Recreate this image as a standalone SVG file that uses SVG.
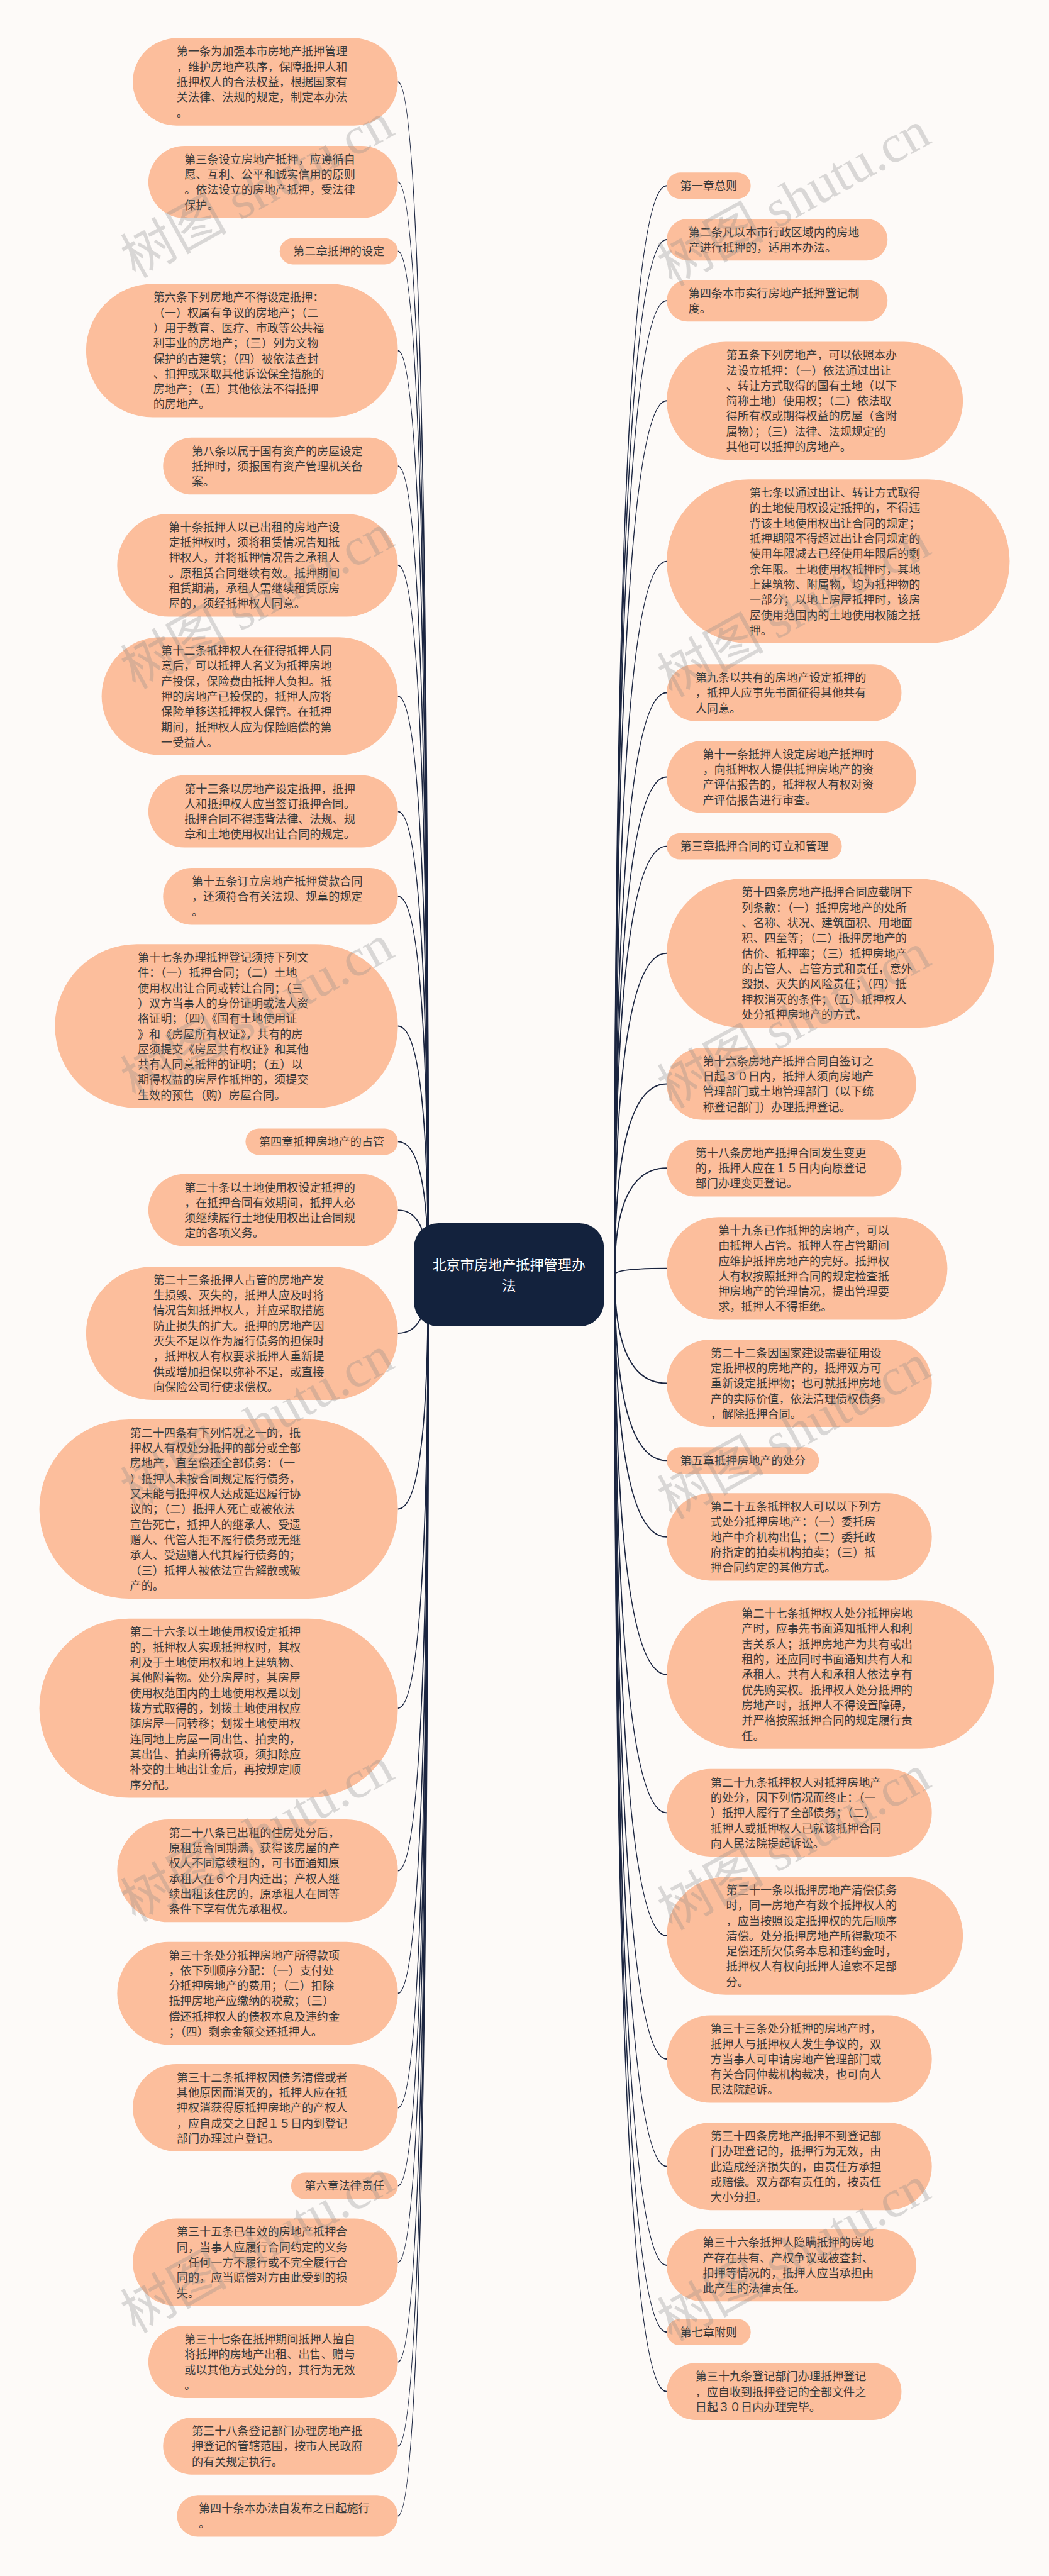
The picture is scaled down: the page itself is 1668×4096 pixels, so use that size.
<svg xmlns="http://www.w3.org/2000/svg" width="1668" height="4096" viewBox="0 0 1668 4096">
<style>
.n{fill:#FCBE9C}
.t{font-family:"Noto Sans CJK SC","Noto Sans",sans-serif;font-size:27.8px;fill:#3a3a3a}
.c{fill:none;stroke:#1b2540;stroke-width:3}
.wm{font-family:"Liberation Serif","Noto Sans CJK SC",serif;font-size:130px;fill:#8a8a8a;opacity:0.3}
.rt{font-family:"Noto Sans CJK SC","Noto Sans",sans-serif;font-size:34px;fill:#ffffff}
</style>
<rect x="0" y="0" width="1668" height="4096" fill="#FDFAF8"/>
<g transform="scale(0.6515625)">
<g id="connectors">
<path class="c" d="M971 199.8 Q1045 199.8 1045 3111"/>
<path class="c" d="M971 444.1 Q1045 444.1 1045 3111"/>
<path class="c" d="M971 613.2 Q1045 613.2 1045 3111"/>
<path class="c" d="M971 855.7 Q1045 855.7 1045 3111"/>
<path class="c" d="M971 1137.5 Q1045 1137.5 1045 3111"/>
<path class="c" d="M971 1379.4 Q1045 1379.4 1045 3111"/>
<path class="c" d="M971 1699 Q1045 1699 1045 3111"/>
<path class="c" d="M971 1980.1 Q1045 1980.1 1045 3111"/>
<path class="c" d="M971 2187.5 Q1045 2187.5 1045 3111"/>
<path class="c" d="M971 2504 Q1045 2504 1045 3111"/>
<path class="c" d="M971 2786.2 Q1045 2786.2 1045 3111"/>
<path class="c" d="M971 2953.1 Q1045 2953.1 1045 3111"/>
<path class="c" d="M971 3253.7 Q1045 3253.7 1045 3111"/>
<path class="c" d="M971 3682.7 Q1045 3682.7 1045 3111"/>
<path class="c" d="M971 4168.7 Q1045 4168.7 1045 3111"/>
<path class="c" d="M971 4565.4 Q1045 4565.4 1045 3111"/>
<path class="c" d="M971 4864.4 Q1045 4864.4 1045 3111"/>
<path class="c" d="M971 5143.8 Q1045 5143.8 1045 3111"/>
<path class="c" d="M971 5334.2 Q1045 5334.2 1045 3111"/>
<path class="c" d="M971 5520.8 Q1045 5520.8 1045 3111"/>
<path class="c" d="M971 5764.1 Q1045 5764.1 1045 3111"/>
<path class="c" d="M971 5969.5 Q1045 5969.5 1045 3111"/>
<path class="c" d="M971 6139.8 Q1045 6139.8 1045 3111"/>
<path class="c" d="M1627 453.2 Q1500 453.2 1500 3111"/>
<path class="c" d="M1627 584.8 Q1500 584.8 1500 3111"/>
<path class="c" d="M1627 733.8 Q1500 733.8 1500 3111"/>
<path class="c" d="M1627 978 Q1500 978 1500 3111"/>
<path class="c" d="M1627 1370 Q1500 1370 1500 3111"/>
<path class="c" d="M1627 1690.5 Q1500 1690.5 1500 3111"/>
<path class="c" d="M1627 1896.1 Q1500 1896.1 1500 3111"/>
<path class="c" d="M1627 2065.2 Q1500 2065.2 1500 3111"/>
<path class="c" d="M1627 2326.4 Q1500 2326.4 1500 3111"/>
<path class="c" d="M1627 2645.1 Q1500 2645.1 1500 3111"/>
<path class="c" d="M1627 2850.5 Q1500 2850.5 1500 3111"/>
<path class="c" d="M1627 3095.4 Q1500 3095.4 1500 3111"/>
<path class="c" d="M1627 3375.8 Q1500 3375.8 1500 3111"/>
<path class="c" d="M1627 3564.2 Q1500 3564.2 1500 3111"/>
<path class="c" d="M1627 3750.8 Q1500 3750.8 1500 3111"/>
<path class="c" d="M1627 4086.4 Q1500 4086.4 1500 3111"/>
<path class="c" d="M1627 4423.8 Q1500 4423.8 1500 3111"/>
<path class="c" d="M1627 4724 Q1500 4724 1500 3111"/>
<path class="c" d="M1627 5024.8 Q1500 5024.8 1500 3111"/>
<path class="c" d="M1627 5286.8 Q1500 5286.8 1500 3111"/>
<path class="c" d="M1627 5528.1 Q1500 5528.1 1500 3111"/>
<path class="c" d="M1627 5691.2 Q1500 5691.2 1500 3111"/>
<path class="c" d="M1627 5836.5 Q1500 5836.5 1500 3111"/>
</g>

<g id="root">
<rect x="1010" y="2985" width="464" height="252" rx="60" fill="#13223D"/>
<text class="rt" x="1242" y="3098" text-anchor="middle">北京市房地产抵押管理办</text>
<text class="rt" x="1242" y="3150" text-anchor="middle">法</text>
</g>

<g id="L1"><rect class="n" x="324" y="93" width="647" height="213.5" rx="106.75"/>
<text class="t" x="431" y="135.7"><tspan x="431">第一条为加强本市房地产抵押管理</tspan><tspan x="431" dy="37.3">，维护房地产秩序，保障抵押人和</tspan><tspan x="431" dy="37.3">抵押权人的合法权益，根据国家有</tspan><tspan x="431" dy="37.3">关法律、法规的规定，制定本办法</tspan><tspan x="431" dy="37.3">。</tspan></text></g>

<g id="L2"><rect class="n" x="362" y="356" width="609" height="176.2" rx="88.1"/>
<text class="t" x="450" y="398.7"><tspan x="450">第三条设立房地产抵押，应遵循自</tspan><tspan x="450" dy="37.3">愿、互利、公平和诚实信用的原则</tspan><tspan x="450" dy="37.3">。依法设立的房地产抵押，受法律</tspan><tspan x="450" dy="37.3">保护。</tspan></text></g>

<g id="L3"><rect class="n" x="682.6" y="581" width="288.4" height="64.3" rx="32.15"/>
<text class="t" x="715.6" y="623.7">第二章抵押的设定</text></g>

<g id="L4"><rect class="n" x="210" y="693" width="761" height="325.4" rx="162.7"/>
<text class="t" x="374" y="735.7"><tspan x="374">第六条下列房地产不得设定抵押：</tspan><tspan x="374" dy="37.3">（一）权属有争议的房地产；（二</tspan><tspan x="374" dy="37.3">）用于教育、医疗、市政等公共福</tspan><tspan x="374" dy="37.3">利事业的房地产；（三）列为文物</tspan><tspan x="374" dy="37.3">保护的古建筑；（四）被依法查封</tspan><tspan x="374" dy="37.3">、扣押或采取其他诉讼保全措施的</tspan><tspan x="374" dy="37.3">房地产；（五）其他依法不得抵押</tspan><tspan x="374" dy="37.3">的房地产。</tspan></text></g>

<g id="L5"><rect class="n" x="398" y="1068" width="573" height="138.9" rx="69.45"/>
<text class="t" x="468" y="1110.7"><tspan x="468">第八条以属于国有资产的房屋设定</tspan><tspan x="468" dy="37.3">抵押时，须报国有资产管理机关备</tspan><tspan x="468" dy="37.3">案。</tspan></text></g>

<g id="L6"><rect class="n" x="286" y="1254" width="685" height="250.8" rx="125.4"/>
<text class="t" x="412" y="1296.7"><tspan x="412">第十条抵押人以已出租的房地产设</tspan><tspan x="412" dy="37.3">定抵押权时，须将租赁情况告知抵</tspan><tspan x="412" dy="37.3">押权人，并将抵押情况告之承租人</tspan><tspan x="412" dy="37.3">。原租赁合同继续有效。抵押期间</tspan><tspan x="412" dy="37.3">租赁期满，承租人需继续租赁原房</tspan><tspan x="412" dy="37.3">屋的，须经抵押权人同意。</tspan></text></g>

<g id="L7"><rect class="n" x="248" y="1555" width="723" height="288.1" rx="144"/>
<text class="t" x="393" y="1597.7"><tspan x="393">第十二条抵押权人在征得抵押人同</tspan><tspan x="393" dy="37.3">意后，可以抵押人名义为抵押房地</tspan><tspan x="393" dy="37.3">产投保，保险费由抵押人负担。抵</tspan><tspan x="393" dy="37.3">押的房地产已投保的，抵押人应将</tspan><tspan x="393" dy="37.3">保险单移送抵押权人保管。在抵押</tspan><tspan x="393" dy="37.3">期间，抵押权人应为保险赔偿的第</tspan><tspan x="393" dy="37.3">一受益人。</tspan></text></g>

<g id="L8"><rect class="n" x="362" y="1892" width="609" height="176.2" rx="88.1"/>
<text class="t" x="450" y="1934.7"><tspan x="450">第十三条以房地产设定抵押，抵押</tspan><tspan x="450" dy="37.3">人和抵押权人应当签订抵押合同。</tspan><tspan x="450" dy="37.3">抵押合同不得违背法律、法规、规</tspan><tspan x="450" dy="37.3">章和土地使用权出让合同的规定。</tspan></text></g>

<g id="L9"><rect class="n" x="398" y="2118" width="573" height="138.9" rx="69.45"/>
<text class="t" x="468" y="2160.7"><tspan x="468">第十五条订立房地产抵押贷款合同</tspan><tspan x="468" dy="37.3">，还须符合有关法规、规章的规定</tspan><tspan x="468" dy="37.3">。</tspan></text></g>

<g id="L10"><rect class="n" x="134" y="2304" width="837" height="400" rx="200"/>
<text class="t" x="336" y="2346.7"><tspan x="336">第十七条办理抵押登记须持下列文</tspan><tspan x="336" dy="37.3">件：（一）抵押合同；（二）土地</tspan><tspan x="336" dy="37.3">使用权出让合同或转让合同；（三</tspan><tspan x="336" dy="37.3">）双方当事人的身份证明或法人资</tspan><tspan x="336" dy="37.3">格证明；（四）《国有土地使用证</tspan><tspan x="336" dy="37.3">》和《房屋所有权证》，共有的房</tspan><tspan x="336" dy="37.3">屋须提交《房屋共有权证》和其他</tspan><tspan x="336" dy="37.3">共有人同意抵押的证明；（五）以</tspan><tspan x="336" dy="37.3">期得权益的房屋作抵押的，须提交</tspan><tspan x="336" dy="37.3">生效的预售（购）房屋合同。</tspan></text></g>

<g id="L11"><rect class="n" x="599.2" y="2754" width="371.8" height="64.3" rx="32.15"/>
<text class="t" x="632.2" y="2796.7">第四章抵押房地产的占管</text></g>

<g id="L12"><rect class="n" x="362" y="2865" width="609" height="176.2" rx="88.1"/>
<text class="t" x="450" y="2907.7"><tspan x="450">第二十条以土地使用权设定抵押的</tspan><tspan x="450" dy="37.3">，在抵押合同有效期间，抵押人必</tspan><tspan x="450" dy="37.3">须继续履行土地使用权出让合同规</tspan><tspan x="450" dy="37.3">定的各项义务。</tspan></text></g>

<g id="L13"><rect class="n" x="210" y="3091" width="761" height="325.4" rx="162.7"/>
<text class="t" x="374" y="3133.7"><tspan x="374">第二十三条抵押人占管的房地产发</tspan><tspan x="374" dy="37.3">生损毁、灭失的，抵押人应及时将</tspan><tspan x="374" dy="37.3">情况告知抵押权人，并应采取措施</tspan><tspan x="374" dy="37.3">防止损失的扩大。抵押的房地产因</tspan><tspan x="374" dy="37.3">灭失不足以作为履行债务的担保时</tspan><tspan x="374" dy="37.3">，抵押权人有权要求抵押人重新提</tspan><tspan x="374" dy="37.3">供或增加担保以弥补不足，或直接</tspan><tspan x="374" dy="37.3">向保险公司行使求偿权。</tspan></text></g>

<g id="L14"><rect class="n" x="96" y="3464" width="875" height="437.3" rx="218.65"/>
<text class="t" x="317" y="3506.7"><tspan x="317">第二十四条有下列情况之一的，抵</tspan><tspan x="317" dy="37.3">押权人有权处分抵押的部分或全部</tspan><tspan x="317" dy="37.3">房地产，直至偿还全部债务：（一</tspan><tspan x="317" dy="37.3">）抵押人未按合同规定履行债务，</tspan><tspan x="317" dy="37.3">又未能与抵押权人达成延迟履行协</tspan><tspan x="317" dy="37.3">议的；（二）抵押人死亡或被依法</tspan><tspan x="317" dy="37.3">宣告死亡，抵押人的继承人、受遗</tspan><tspan x="317" dy="37.3">赠人、代管人拒不履行债务或无继</tspan><tspan x="317" dy="37.3">承人、受遗赠人代其履行债务的；</tspan><tspan x="317" dy="37.3">（三）抵押人被依法宣告解散或破</tspan><tspan x="317" dy="37.3">产的。</tspan></text></g>

<g id="L15"><rect class="n" x="96" y="3950" width="875" height="437.3" rx="218.65"/>
<text class="t" x="317" y="3992.7"><tspan x="317">第二十六条以土地使用权设定抵押</tspan><tspan x="317" dy="37.3">的，抵押权人实现抵押权时，其权</tspan><tspan x="317" dy="37.3">利及于土地使用权和地上建筑物、</tspan><tspan x="317" dy="37.3">其他附着物。处分房屋时，其房屋</tspan><tspan x="317" dy="37.3">使用权范围内的土地使用权是以划</tspan><tspan x="317" dy="37.3">拨方式取得的，划拨土地使用权应</tspan><tspan x="317" dy="37.3">随房屋一同转移；划拨土地使用权</tspan><tspan x="317" dy="37.3">连同地上房屋一同出售、拍卖的，</tspan><tspan x="317" dy="37.3">其出售、拍卖所得款项，须扣除应</tspan><tspan x="317" dy="37.3">补交的土地出让金后，再按规定顺</tspan><tspan x="317" dy="37.3">序分配。</tspan></text></g>

<g id="L16"><rect class="n" x="286" y="4440" width="685" height="250.8" rx="125.4"/>
<text class="t" x="412" y="4482.7"><tspan x="412">第二十八条已出租的住房处分后，</tspan><tspan x="412" dy="37.3">原租赁合同期满，获得该房屋的产</tspan><tspan x="412" dy="37.3">权人不同意续租的，可书面通知原</tspan><tspan x="412" dy="37.3">承租人在６个月内迁出；产权人继</tspan><tspan x="412" dy="37.3">续出租该住房的，原承租人在同等</tspan><tspan x="412" dy="37.3">条件下享有优先承租权。</tspan></text></g>

<g id="L17"><rect class="n" x="286" y="4739" width="685" height="250.8" rx="125.4"/>
<text class="t" x="412" y="4781.7"><tspan x="412">第三十条处分抵押房地产所得款项</tspan><tspan x="412" dy="37.3">，依下列顺序分配：（一）支付处</tspan><tspan x="412" dy="37.3">分抵押房地产的费用；（二）扣除</tspan><tspan x="412" dy="37.3">抵押房地产应缴纳的税款；（三）</tspan><tspan x="412" dy="37.3">偿还抵押权人的债权本息及违约金</tspan><tspan x="412" dy="37.3">；（四）剩余金额交还抵押人。</tspan></text></g>

<g id="L18"><rect class="n" x="324" y="5037" width="647" height="213.5" rx="106.75"/>
<text class="t" x="431" y="5079.7"><tspan x="431">第三十二条抵押权因债务清偿或者</tspan><tspan x="431" dy="37.3">其他原因而消灭的，抵押人应在抵</tspan><tspan x="431" dy="37.3">押权消获得原抵押房地产的产权人</tspan><tspan x="431" dy="37.3">，应自成交之日起１５日内到登记</tspan><tspan x="431" dy="37.3">部门办理过户登记。</tspan></text></g>

<g id="L19"><rect class="n" x="710.4" y="5302" width="260.6" height="64.3" rx="32.15"/>
<text class="t" x="743.4" y="5344.7">第六章法律责任</text></g>

<g id="L20"><rect class="n" x="324" y="5414" width="647" height="213.5" rx="106.75"/>
<text class="t" x="431" y="5456.7"><tspan x="431">第三十五条已生效的房地产抵押合</tspan><tspan x="431" dy="37.3">同，当事人应履行合同约定的义务</tspan><tspan x="431" dy="37.3">，任何一方不履行或不完全履行合</tspan><tspan x="431" dy="37.3">同的，应当赔偿对方由此受到的损</tspan><tspan x="431" dy="37.3">失。</tspan></text></g>

<g id="L21"><rect class="n" x="362" y="5676" width="609" height="176.2" rx="88.1"/>
<text class="t" x="450" y="5718.7"><tspan x="450">第三十七条在抵押期间抵押人擅自</tspan><tspan x="450" dy="37.3">将抵押的房地产出租、出售、赠与</tspan><tspan x="450" dy="37.3">或以其他方式处分的，其行为无效</tspan><tspan x="450" dy="37.3">。</tspan></text></g>

<g id="L22"><rect class="n" x="398" y="5900" width="573" height="138.9" rx="69.45"/>
<text class="t" x="468" y="5942.7"><tspan x="468">第三十八条登记部门办理房地产抵</tspan><tspan x="468" dy="37.3">押登记的管辖范围，按市人民政府</tspan><tspan x="468" dy="37.3">的有关规定执行。</tspan></text></g>

<g id="L23"><rect class="n" x="432" y="6089" width="539" height="101.6" rx="50.8"/>
<text class="t" x="485" y="6131.7"><tspan x="485">第四十条本办法自发布之日起施行</tspan><tspan x="485" dy="37.3">。</tspan></text></g>

<g id="R1"><rect class="n" x="1627" y="421" width="205" height="64.3" rx="32.15"/>
<text class="t" x="1660" y="463.7">第一章总则</text></g>

<g id="R2"><rect class="n" x="1627" y="534" width="539" height="101.6" rx="50.8"/>
<text class="t" x="1680" y="576.7"><tspan x="1680">第二条凡以本市行政区域内的房地</tspan><tspan x="1680" dy="37.3">产进行抵押的，适用本办法。</tspan></text></g>

<g id="R3"><rect class="n" x="1627" y="683" width="539" height="101.6" rx="50.8"/>
<text class="t" x="1680" y="725.7"><tspan x="1680">第四条本市实行房地产抵押登记制</tspan><tspan x="1680" dy="37.3">度。</tspan></text></g>

<g id="R4"><rect class="n" x="1627" y="834" width="723" height="288.1" rx="144"/>
<text class="t" x="1772" y="876.7"><tspan x="1772">第五条下列房地产，可以依照本办</tspan><tspan x="1772" dy="37.3">法设立抵押：（一）依法通过出让</tspan><tspan x="1772" dy="37.3">、转让方式取得的国有土地（以下</tspan><tspan x="1772" dy="37.3">简称土地）使用权；（二）依法取</tspan><tspan x="1772" dy="37.3">得所有权或期得权益的房屋（含附</tspan><tspan x="1772" dy="37.3">属物）；（三）法律、法规规定的</tspan><tspan x="1772" dy="37.3">其他可以抵押的房地产。</tspan></text></g>

<g id="R5"><rect class="n" x="1627" y="1170" width="837" height="400" rx="200"/>
<text class="t" x="1829" y="1212.7"><tspan x="1829">第七条以通过出让、转让方式取得</tspan><tspan x="1829" dy="37.3">的土地使用权设定抵押的，不得违</tspan><tspan x="1829" dy="37.3">背该土地使用权出让合同的规定；</tspan><tspan x="1829" dy="37.3">抵押期限不得超过出让合同规定的</tspan><tspan x="1829" dy="37.3">使用年限减去已经使用年限后的剩</tspan><tspan x="1829" dy="37.3">余年限。土地使用权抵押时，其地</tspan><tspan x="1829" dy="37.3">上建筑物、附属物，均为抵押物的</tspan><tspan x="1829" dy="37.3">一部分；以地上房屋抵押时，该房</tspan><tspan x="1829" dy="37.3">屋使用范围内的土地使用权随之抵</tspan><tspan x="1829" dy="37.3">押。</tspan></text></g>

<g id="R6"><rect class="n" x="1627" y="1621" width="573" height="138.9" rx="69.45"/>
<text class="t" x="1697" y="1663.7"><tspan x="1697">第九条以共有的房地产设定抵押的</tspan><tspan x="1697" dy="37.3">，抵押人应事先书面征得其他共有</tspan><tspan x="1697" dy="37.3">人同意。</tspan></text></g>

<g id="R7"><rect class="n" x="1627" y="1808" width="609" height="176.2" rx="88.1"/>
<text class="t" x="1715" y="1850.7"><tspan x="1715">第十一条抵押人设定房地产抵押时</tspan><tspan x="1715" dy="37.3">，向抵押权人提供抵押房地产的资</tspan><tspan x="1715" dy="37.3">产评估报告的，抵押权人有权对资</tspan><tspan x="1715" dy="37.3">产评估报告进行审查。</tspan></text></g>

<g id="R8"><rect class="n" x="1627" y="2033" width="427.4" height="64.3" rx="32.15"/>
<text class="t" x="1660" y="2075.7">第三章抵押合同的订立和管理</text></g>

<g id="R9"><rect class="n" x="1627" y="2145" width="799" height="362.7" rx="181.35"/>
<text class="t" x="1810" y="2187.7"><tspan x="1810">第十四条房地产抵押合同应载明下</tspan><tspan x="1810" dy="37.3">列条款：（一）抵押房地产的处所</tspan><tspan x="1810" dy="37.3">、名称、状况、建筑面积、用地面</tspan><tspan x="1810" dy="37.3">积、四至等；（二）抵押房地产的</tspan><tspan x="1810" dy="37.3">估价、抵押率；（三）抵押房地产</tspan><tspan x="1810" dy="37.3">的占管人、占管方式和责任，意外</tspan><tspan x="1810" dy="37.3">毁损、灭失的风险责任；（四）抵</tspan><tspan x="1810" dy="37.3">押权消灭的条件；（五）抵押权人</tspan><tspan x="1810" dy="37.3">处分抵押房地产的方式。</tspan></text></g>

<g id="R10"><rect class="n" x="1627" y="2557" width="609" height="176.2" rx="88.1"/>
<text class="t" x="1715" y="2599.7"><tspan x="1715">第十六条房地产抵押合同自签订之</tspan><tspan x="1715" dy="37.3">日起３０日内，抵押人须向房地产</tspan><tspan x="1715" dy="37.3">管理部门或土地管理部门（以下统</tspan><tspan x="1715" dy="37.3">称登记部门）办理抵押登记。</tspan></text></g>

<g id="R11"><rect class="n" x="1627" y="2781" width="573" height="138.9" rx="69.45"/>
<text class="t" x="1697" y="2823.7"><tspan x="1697">第十八条房地产抵押合同发生变更</tspan><tspan x="1697" dy="37.3">的，抵押人应在１５日内向原登记</tspan><tspan x="1697" dy="37.3">部门办理变更登记。</tspan></text></g>

<g id="R12"><rect class="n" x="1627" y="2970" width="685" height="250.8" rx="125.4"/>
<text class="t" x="1753" y="3012.7"><tspan x="1753">第十九条已作抵押的房地产，可以</tspan><tspan x="1753" dy="37.3">由抵押人占管。抵押人在占管期间</tspan><tspan x="1753" dy="37.3">应维护抵押房地产的完好。抵押权</tspan><tspan x="1753" dy="37.3">人有权按照抵押合同的规定检查抵</tspan><tspan x="1753" dy="37.3">押房地产的管理情况，提出管理要</tspan><tspan x="1753" dy="37.3">求，抵押人不得拒绝。</tspan></text></g>

<g id="R13"><rect class="n" x="1627" y="3269" width="647" height="213.5" rx="106.75"/>
<text class="t" x="1734" y="3311.7"><tspan x="1734">第二十二条因国家建设需要征用设</tspan><tspan x="1734" dy="37.3">定抵押权的房地产的，抵押双方可</tspan><tspan x="1734" dy="37.3">重新设定抵押物；也可就抵押房地</tspan><tspan x="1734" dy="37.3">产的实际价值，依法清理债权债务</tspan><tspan x="1734" dy="37.3">，解除抵押合同。</tspan></text></g>

<g id="R14"><rect class="n" x="1627" y="3532" width="371.8" height="64.3" rx="32.15"/>
<text class="t" x="1660" y="3574.7">第五章抵押房地产的处分</text></g>

<g id="R15"><rect class="n" x="1627" y="3644" width="647" height="213.5" rx="106.75"/>
<text class="t" x="1734" y="3686.7"><tspan x="1734">第二十五条抵押权人可以以下列方</tspan><tspan x="1734" dy="37.3">式处分抵押房地产：（一）委托房</tspan><tspan x="1734" dy="37.3">地产中介机构出售；（二）委托政</tspan><tspan x="1734" dy="37.3">府指定的拍卖机构拍卖；（三）抵</tspan><tspan x="1734" dy="37.3">押合同约定的其他方式。</tspan></text></g>

<g id="R16"><rect class="n" x="1627" y="3905" width="799" height="362.7" rx="181.35"/>
<text class="t" x="1810" y="3947.7"><tspan x="1810">第二十七条抵押权人处分抵押房地</tspan><tspan x="1810" dy="37.3">产时，应事先书面通知抵押人和利</tspan><tspan x="1810" dy="37.3">害关系人；抵押房地产为共有或出</tspan><tspan x="1810" dy="37.3">租的，还应同时书面通知共有人和</tspan><tspan x="1810" dy="37.3">承租人。共有人和承租人依法享有</tspan><tspan x="1810" dy="37.3">优先购买权。抵押权人处分抵押的</tspan><tspan x="1810" dy="37.3">房地产时，抵押人不得设置障碍，</tspan><tspan x="1810" dy="37.3">并严格按照抵押合同的规定履行责</tspan><tspan x="1810" dy="37.3">任。</tspan></text></g>

<g id="R17"><rect class="n" x="1627" y="4317" width="647" height="213.5" rx="106.75"/>
<text class="t" x="1734" y="4359.7"><tspan x="1734">第二十九条抵押权人对抵押房地产</tspan><tspan x="1734" dy="37.3">的处分，因下列情况而终止：（一</tspan><tspan x="1734" dy="37.3">）抵押人履行了全部债务；（二）</tspan><tspan x="1734" dy="37.3">抵押人或抵押权人已就该抵押合同</tspan><tspan x="1734" dy="37.3">向人民法院提起诉讼。</tspan></text></g>

<g id="R18"><rect class="n" x="1627" y="4580" width="723" height="288.1" rx="144"/>
<text class="t" x="1772" y="4622.7"><tspan x="1772">第三十一条以抵押房地产清偿债务</tspan><tspan x="1772" dy="37.3">时，同一房地产有数个抵押权人的</tspan><tspan x="1772" dy="37.3">，应当按照设定抵押权的先后顺序</tspan><tspan x="1772" dy="37.3">清偿。处分抵押房地产所得款项不</tspan><tspan x="1772" dy="37.3">足偿还所欠债务本息和违约金时，</tspan><tspan x="1772" dy="37.3">抵押权人有权向抵押人追索不足部</tspan><tspan x="1772" dy="37.3">分。</tspan></text></g>

<g id="R19"><rect class="n" x="1627" y="4918" width="647" height="213.5" rx="106.75"/>
<text class="t" x="1734" y="4960.7"><tspan x="1734">第三十三条处分抵押的房地产时，</tspan><tspan x="1734" dy="37.3">抵押人与抵押权人发生争议的，双</tspan><tspan x="1734" dy="37.3">方当事人可申请房地产管理部门或</tspan><tspan x="1734" dy="37.3">有关合同仲裁机构裁决，也可向人</tspan><tspan x="1734" dy="37.3">民法院起诉。</tspan></text></g>

<g id="R20"><rect class="n" x="1627" y="5180" width="647" height="213.5" rx="106.75"/>
<text class="t" x="1734" y="5222.7"><tspan x="1734">第三十四条房地产抵押不到登记部</tspan><tspan x="1734" dy="37.3">门办理登记的，抵押行为无效，由</tspan><tspan x="1734" dy="37.3">此造成经济损失的，由责任方承担</tspan><tspan x="1734" dy="37.3">或赔偿。双方都有责任的，按责任</tspan><tspan x="1734" dy="37.3">大小分担。</tspan></text></g>

<g id="R21"><rect class="n" x="1627" y="5440" width="609" height="176.2" rx="88.1"/>
<text class="t" x="1715" y="5482.7"><tspan x="1715">第三十六条抵押人隐瞒抵押的房地</tspan><tspan x="1715" dy="37.3">产存在共有、产权争议或被查封、</tspan><tspan x="1715" dy="37.3">扣押等情况的，抵押人应当承担由</tspan><tspan x="1715" dy="37.3">此产生的法律责任。</tspan></text></g>

<g id="R22"><rect class="n" x="1627" y="5659" width="205" height="64.3" rx="32.15"/>
<text class="t" x="1660" y="5701.7">第七章附则</text></g>

<g id="R23"><rect class="n" x="1627" y="5767" width="573" height="138.9" rx="69.45"/>
<text class="t" x="1697" y="5809.7"><tspan x="1697">第三十九条登记部门办理抵押登记</tspan><tspan x="1697" dy="37.3">，应自收到抵押登记的全部文件之</tspan><tspan x="1697" dy="37.3">日起３０日内办理完毕。</tspan></text></g>

<g id="watermarks">
<text class="wm" transform="translate(330 680) rotate(-29)">树图 shutu.cn</text>
<text class="wm" transform="translate(330 1683) rotate(-29)">树图 shutu.cn</text>
<text class="wm" transform="translate(330 2686) rotate(-29)">树图 shutu.cn</text>
<text class="wm" transform="translate(330 3689) rotate(-29)">树图 shutu.cn</text>
<text class="wm" transform="translate(330 4692) rotate(-29)">树图 shutu.cn</text>
<text class="wm" transform="translate(330 5695) rotate(-29)">树图 shutu.cn</text>
<text class="wm" transform="translate(1640 700) rotate(-29)">树图 shutu.cn</text>
<text class="wm" transform="translate(1640 1703) rotate(-29)">树图 shutu.cn</text>
<text class="wm" transform="translate(1640 2706) rotate(-29)">树图 shutu.cn</text>
<text class="wm" transform="translate(1640 3709) rotate(-29)">树图 shutu.cn</text>
<text class="wm" transform="translate(1640 4712) rotate(-29)">树图 shutu.cn</text>
<text class="wm" transform="translate(1640 5715) rotate(-29)">树图 shutu.cn</text>
</g>
</g>
</svg>
